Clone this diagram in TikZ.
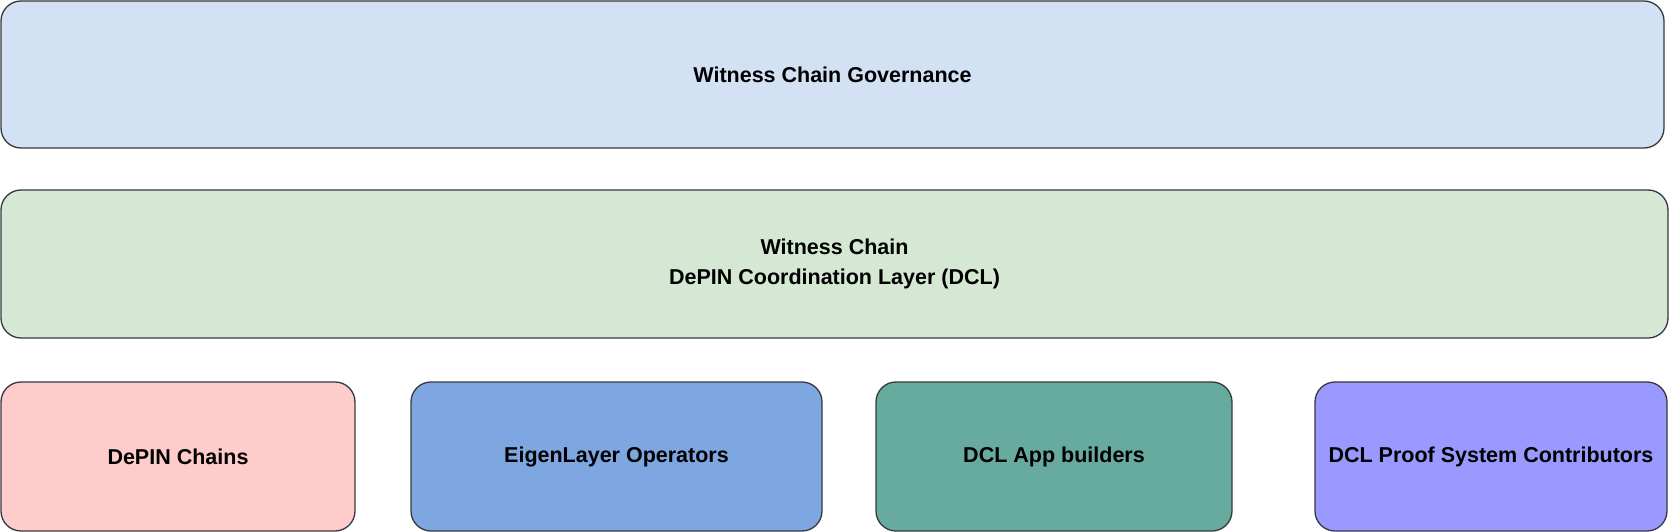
\documentclass[tikz,border=0pt]{standalone}
\usepackage{fontspec}
\setmainfont{Liberation Sans}
\definecolor{govfill}{HTML}{D2E1F4}
\definecolor{dclfill}{HTML}{D5E8D4}
\definecolor{pinkfill}{HTML}{FFCCCC}
\definecolor{bluefill}{HTML}{7EA6E0}
\definecolor{tealfill}{HTML}{67AB9F}
\definecolor{purpfill}{HTML}{9999FF}
\definecolor{edge}{HTML}{36393D}
\begin{document}
\begin{tikzpicture}[x=1pt,y=-1pt,
  layer/.style={draw=edge, line width=1.3pt, rounded corners=20pt, inner sep=0pt, outer sep=0pt,
    font=\fontsize{21.5}{30}\selectfont\bfseries, align=center, text=black}]
\useasboundingbox (0,0) rectangle (1670,532);
\node[layer, fill=govfill, minimum width=1663pt, minimum height=147pt] (gov) at (832.5,74.5) {Witness Chain Governance};
\node[layer, fill=dclfill, minimum width=1667pt, minimum height=148pt] (dcl) at (834.5,264) {Witness Chain\\DePIN Coordination Layer (DCL)};
\node[layer, fill=pinkfill, minimum width=354pt, minimum height=149pt] (depin) at (178,456.5) {DePIN Chains};
\node[layer, fill=bluefill, minimum width=411pt, minimum height=149pt] (eigen) at (616.5,456.5) {EigenLayer Operators};
\node[layer, fill=tealfill, minimum width=356pt, minimum height=149pt] (app) at (1054,456.5) {DCL App builders};
\node[layer, fill=purpfill, minimum width=352pt, minimum height=149pt] (proof) at (1491,456.5) {DCL Proof System Contributors};
\end{tikzpicture}
\end{document}
